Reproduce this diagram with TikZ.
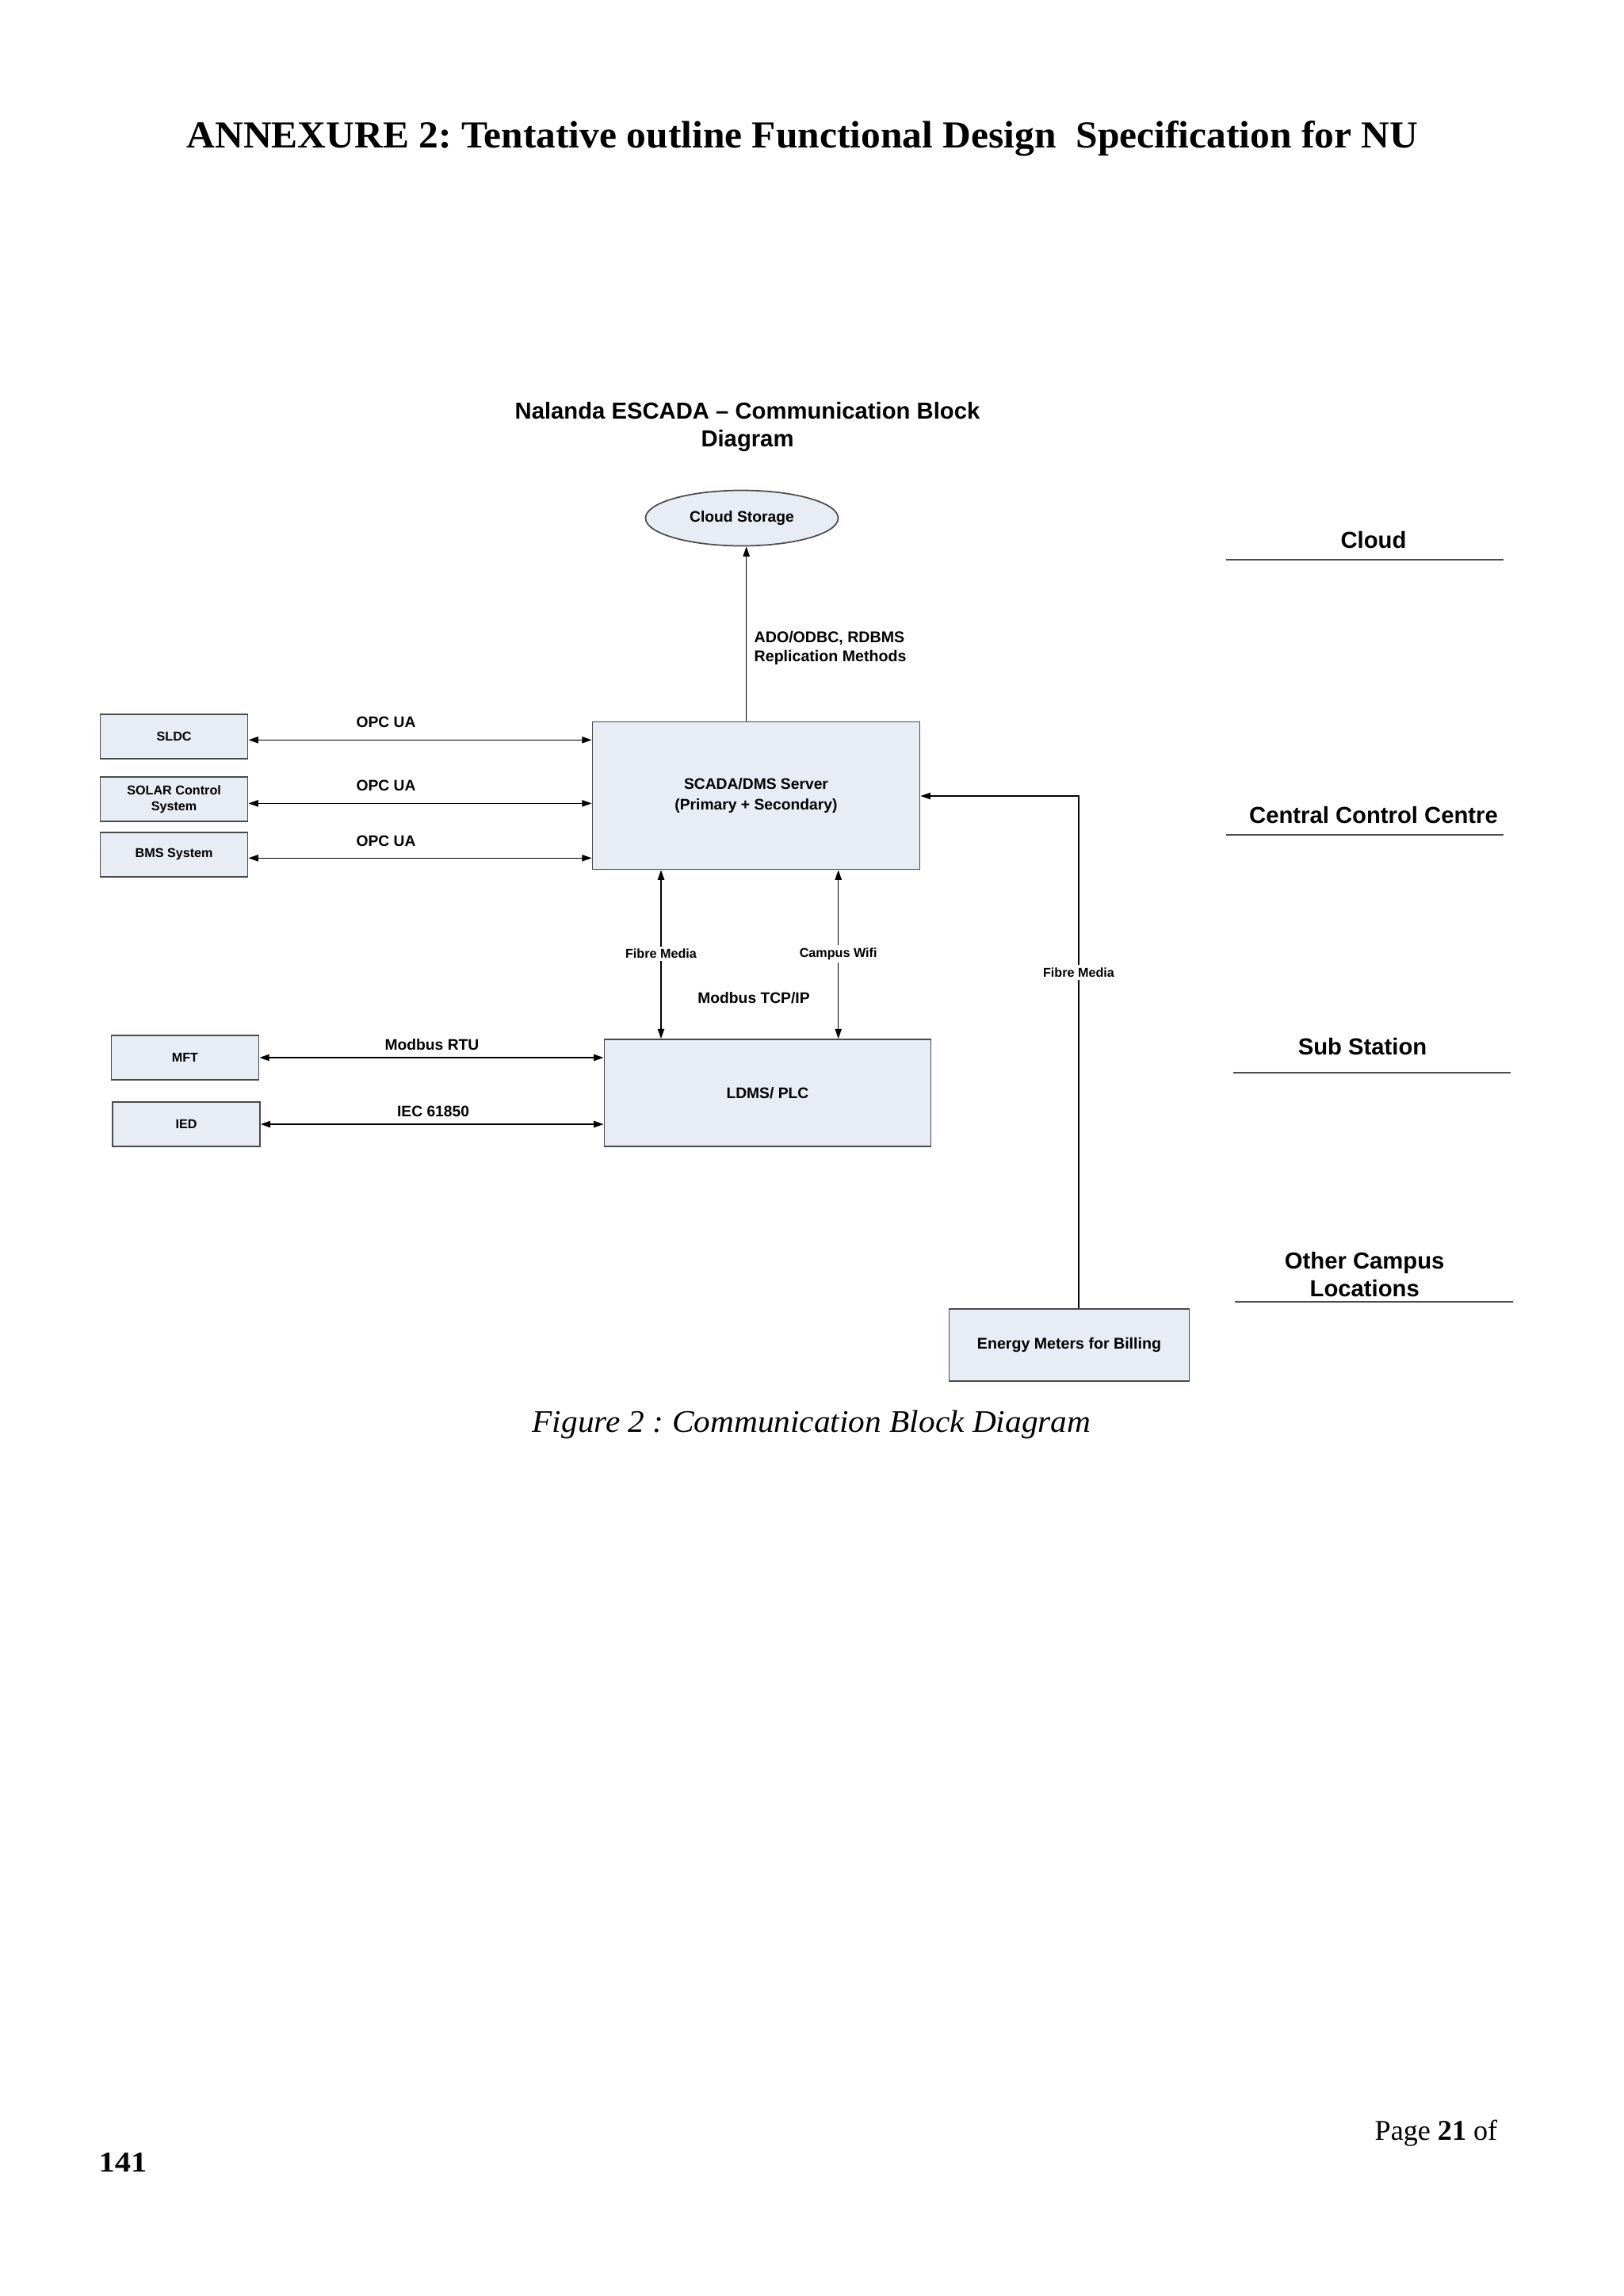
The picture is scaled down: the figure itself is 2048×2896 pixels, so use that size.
\documentclass[tikz,border=0pt]{standalone}
\usepackage{fontspec}
\setmainfont{Liberation Serif}
\setsansfont{Liberation Sans}
\usetikzlibrary{arrows.meta,shapes.geometric}
\definecolor{boxfill}{HTML}{E8ECF5}
\definecolor{boxline}{HTML}{4A4A4A}
\newcommand{\pxu}{0.29066pt}
\frenchspacing
\begin{document}
\begin{tikzpicture}[x=0.29066pt,y=-0.29066pt,
  box/.style={draw=boxline, fill=boxfill, line width=0.5pt, inner sep=0pt, align=center,
    font=\sffamily\bfseries\fontsize{4.7}{5.4}\selectfont},
  lbl/.style={font=\sffamily\bfseries\fontsize{5.6}{6.7}\selectfont, inner sep=0pt},
  smalllbl/.style={font=\sffamily\bfseries\fontsize{4.7}{5.6}\selectfont, inner sep=1pt, fill=white},
  lvl/.style={font=\sffamily\bfseries\fontsize{8.5}{10.2}\selectfont, inner sep=0pt, anchor=base},
  conn/.style={line width=0.45pt, black},
  both/.style={conn, {Triangle[length=3.6pt,width=2.4pt]}-{Triangle[length=3.6pt,width=2.4pt]}},
  onto/.style={conn, -{Triangle[length=3.6pt,width=2.4pt]}},
  rulel/.style={draw=black!70, line width=0.55pt}]
\useasboundingbox[fill=white] (0,0) rectangle (2048,2896);

% page header and footer
\node[font=\rmfamily\bfseries\fontsize{14}{16}\selectfont, anchor=base, inner sep=0pt] (pagetitle) at (1012.5,186.7)
  {\scalebox{1.028}[1]{ANNEXURE 2: Tentative outline Functional Design\ \ Specification for NU}};
\node[font=\rmfamily\itshape\fontsize{11.5}{14}\selectfont, anchor=base, inner sep=0pt] (caption) at (1024,1806.5)
  {\scalebox{1.045}[1]{Figure 2 : Communication Block Diagram}};
\node[font=\rmfamily\fontsize{10.5}{12}\selectfont, anchor=base west, inner sep=0pt] (pageno) at (1734,2699) {Page \textbf{21} of};
\node[font=\rmfamily\bfseries\fontsize{10.5}{12}\selectfont, anchor=base west, inner sep=0pt] (pagetot) at (124,2739) {\scalebox{1.12}[1]{141}};

% diagram title
\node[font=\sffamily\bfseries\fontsize{8.5}{10.2}\selectfont, anchor=base, inner sep=0pt] (dt1) at (943,528.3)
  {Nalanda ESCADA -- Communication Block};
\node[font=\sffamily\bfseries\fontsize{8.5}{10.2}\selectfont, anchor=base, inner sep=0pt] (dt2) at (943,563.3) {Diagram};

% level labels
\node[lvl] (lcloud) at (1733,691.7) {Cloud};
\draw[rulel] (1547,705.7) -- (1897,705.7);
\node[lvl] (lccc) at (1733,1038.3) {Central Control Centre};
\draw[rulel] (1547,1052.7) -- (1897,1052.7);
\node[lvl] (lsub) at (1719,1330) {Sub Station};
\draw[rulel] (1556,1353) -- (1906,1353);
\node[lvl] (loth1) at (1721.7,1600) {Other Campus};
\node[lvl] (loth2) at (1721.7,1635.7) {Locations};
\draw[rulel] (1558,1641.7) -- (1908.7,1641.7);

% nodes
\node[ellipse, draw=boxline, fill=boxfill, line width=0.5pt, inner sep=0pt,
  minimum width=243*\pxu, minimum height=70*\pxu,
  font=\sffamily\bfseries\fontsize{5.6}{6.7}\selectfont] (cloud) at (936,653.5) {Cloud Storage};
\node[box, minimum width=186*\pxu, minimum height=56*\pxu] (sldc) at (219.6,929) {SLDC};
\node[box, minimum width=186*\pxu, minimum height=56*\pxu, font=\sffamily\bfseries\fontsize{4.7}{5.8}\selectfont] (solar) at (219.6,1008) {SOLAR Control\\System};
\node[box, minimum width=186*\pxu, minimum height=56*\pxu] (bms) at (219.6,1078) {BMS System};
\node[box, minimum width=413*\pxu, minimum height=186*\pxu, font=\sffamily\bfseries\fontsize{5.6}{7.3}\selectfont] (scada) at (954,1003.5)
  {SCADA/DMS Server\\(Primary + Secondary)};
\node[box, minimum width=186*\pxu, minimum height=56*\pxu] (mft) at (233.5,1334) {MFT};
\node[box, minimum width=186*\pxu, minimum height=56*\pxu] (ied) at (235,1418) {IED};
\node[box, minimum width=412*\pxu, minimum height=135*\pxu, font=\sffamily\bfseries\fontsize{5.6}{6.7}\selectfont] (ldms) at (968.4,1378.5) {LDMS/ PLC};
\node[box, minimum width=303*\pxu, minimum height=91*\pxu, font=\sffamily\bfseries\fontsize{5.7}{6.8}\selectfont] (energy) at (1349,1696.4) {Energy Meters for Billing};

% connectors
\draw[onto] (scada.north -| 941.7,0) -- (cloud.south -| 941.7,0);
\node[lbl, anchor=west, align=left, font=\sffamily\bfseries\fontsize{5.7}{7}\selectfont] (ado) at (951,817)
  {ADO/ODBC, RDBMS\\Replication Methods};

\draw[both] (sldc.east |- 0,933.3) -- (scada.west |- 0,933.3);
\draw[both] (solar.east |- 0,1013.3) -- (scada.west |- 0,1013.3);
\draw[both] (bms.east |- 0,1082.3) -- (scada.west |- 0,1082.3);
\node[lbl] (opc1) at (487,910.7) {OPC UA};
\node[lbl] (opc2) at (487,991) {OPC UA};
\node[lbl] (opc3) at (487,1061) {OPC UA};

\draw[both] (mft.east) -- (ldms.west |- mft.east);
\draw[both] (ied.east) -- (ldms.west |- ied.east);
\node[lbl] (rtu) at (545,1317.7) {Modbus RTU};
\node[lbl] (iec) at (546.6,1401.7) {IEC 61850};

\draw[both] (scada.south -| 834,0) -- (ldms.north -| 834,0)
  node[smalllbl, pos=0.496] (fm1) {Fibre Media};
\draw[both] (scada.south -| 1057.7,0) -- (ldms.north -| 1057.7,0)
  node[smalllbl, pos=0.496] (cw) {Campus Wifi};
\node[lbl] (tcp) at (951,1259) {Modbus TCP/IP};

\draw[onto] (energy.north -| 1361,0) |- (scada.east |- 0,1004)
  node[smalllbl, pos=0.328] (fm2) {Fibre Media};
\end{tikzpicture}
\end{document}
